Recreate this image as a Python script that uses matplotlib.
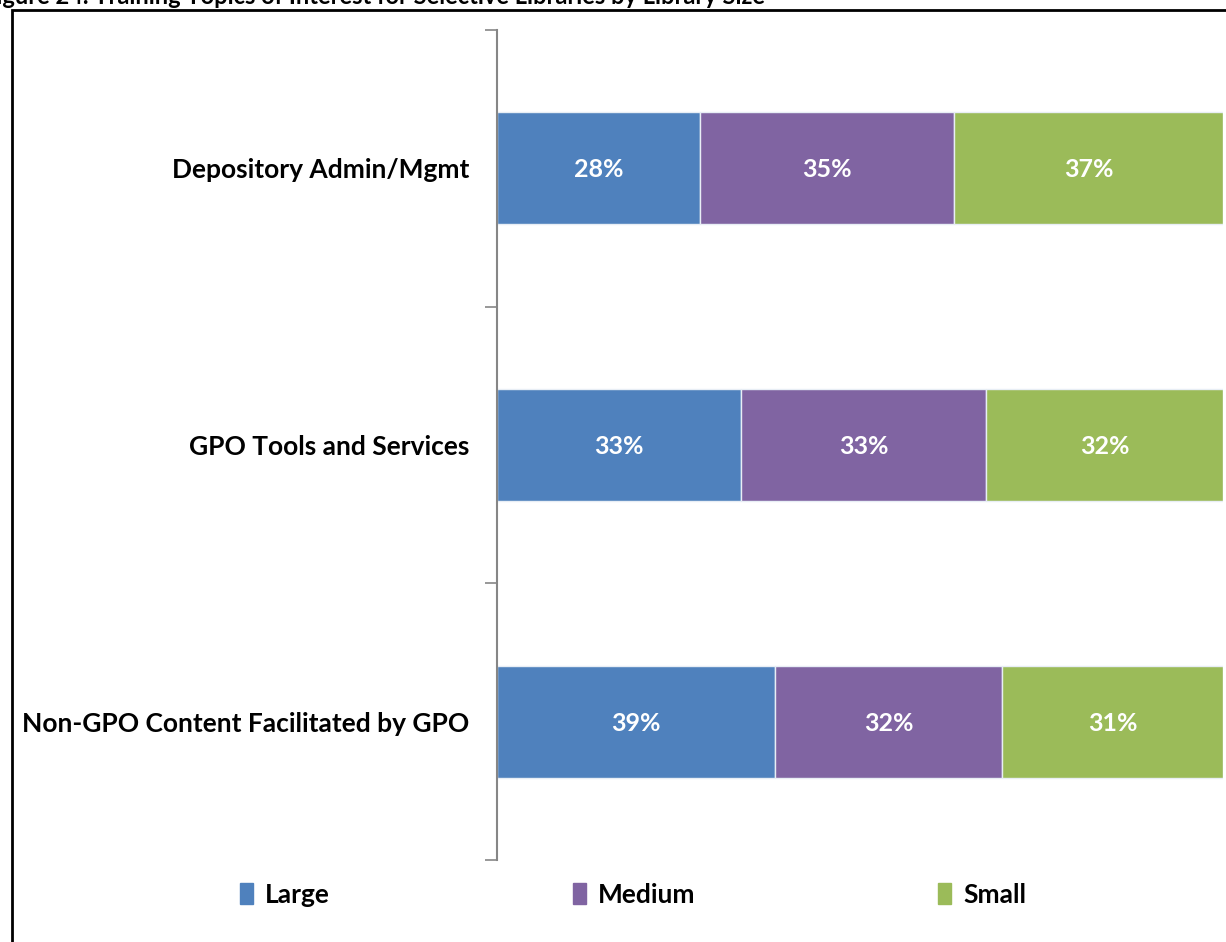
import matplotlib
matplotlib.use("Agg")
import matplotlib.pyplot as plt
from matplotlib.patches import Rectangle
import numpy as np

plt.rcParams['font.family'] = ['Lato', 'DejaVu Sans']

categories = ["Depository Admin/Mgmt", "GPO Tools and Services", "Non-GPO Content Facilitated by GPO"]
series_names = ["Large", "Medium", "Small"]
large = [28, 33, 39]
medium = [35, 33, 32]
small = [37, 32, 31]
colors = ["#4F81BD", "#8064A2", "#9BBB59"]
title = "Figure 24. Training Topics of Interest for Selective Libraries by Library Size"

W, H = 1226, 942
fig = plt.figure(figsize=(W / 100, H / 100), dpi=100)

# outer frame (extends beyond the image on right/bottom)
fig.add_artist(Rectangle((12 / W, -0.05), 1.2, (H - 10) / H + 0.05, transform=fig.transFigure,
                         fill=False, edgecolor="black", linewidth=2, clip_on=False))
# title, clipped at the top edge as in the reference
fig.text(765 / W, (H - 4) / H, title, ha="right", va="baseline", fontsize=17,
         fontweight="bold", color="black")

ax = fig.add_axes([497 / W, (H - 860) / H, (1223 - 497) / W, (860 - 30) / H])

data = np.array([large, medium, small], dtype=float)
totals = data.sum(axis=0)
norm = data / totals * 100
y = np.arange(len(categories))
left = np.zeros(len(categories))
for i, name in enumerate(series_names):
    ax.barh(y, norm[i], left=left, height=0.404, color=colors[i], edgecolor="#e8eef5",
            linewidth=1, label=name)
    for j in range(len(categories)):
        ax.text(left[j] + norm[i][j] / 2, y[j] + 0.005, f"{int(data[i][j])}%", ha="center",
                va="center", color="white", fontsize=18, fontweight="bold")
    left += norm[i]

ax.set_xlim(0, 100)
ax.set_ylim(len(categories) - 0.5, -0.5)
ax.set_yticks(y)
ax.set_yticklabels(categories, fontsize=19, fontweight="bold")
ax.tick_params(axis="y", which="major", length=0, pad=20)
ax.set_yticks(np.arange(-0.5, len(categories)), minor=True)
ax.tick_params(axis="y", which="minor", length=9, width=1.2, color="#868686")
ax.xaxis.set_visible(False)
for s in ["top", "right", "bottom"]:
    ax.spines[s].set_visible(False)
ax.spines["left"].set_color("#868686")
ax.spines["left"].set_linewidth(1.5)

handles = [Rectangle((0, 0), 1, 1, color=c) for c in colors]
fig.legend(handles, series_names, loc="center", bbox_to_anchor=(633 / W, (H - 895) / H), ncol=3,
           frameon=False, prop={"family": ["Lato", "DejaVu Sans"], "weight": "bold", "size": 19},
           handlelength=0.5, handleheight=0.85, handletextpad=0.45, columnspacing=9.2)

fig.savefig("out.png", dpi=100)
